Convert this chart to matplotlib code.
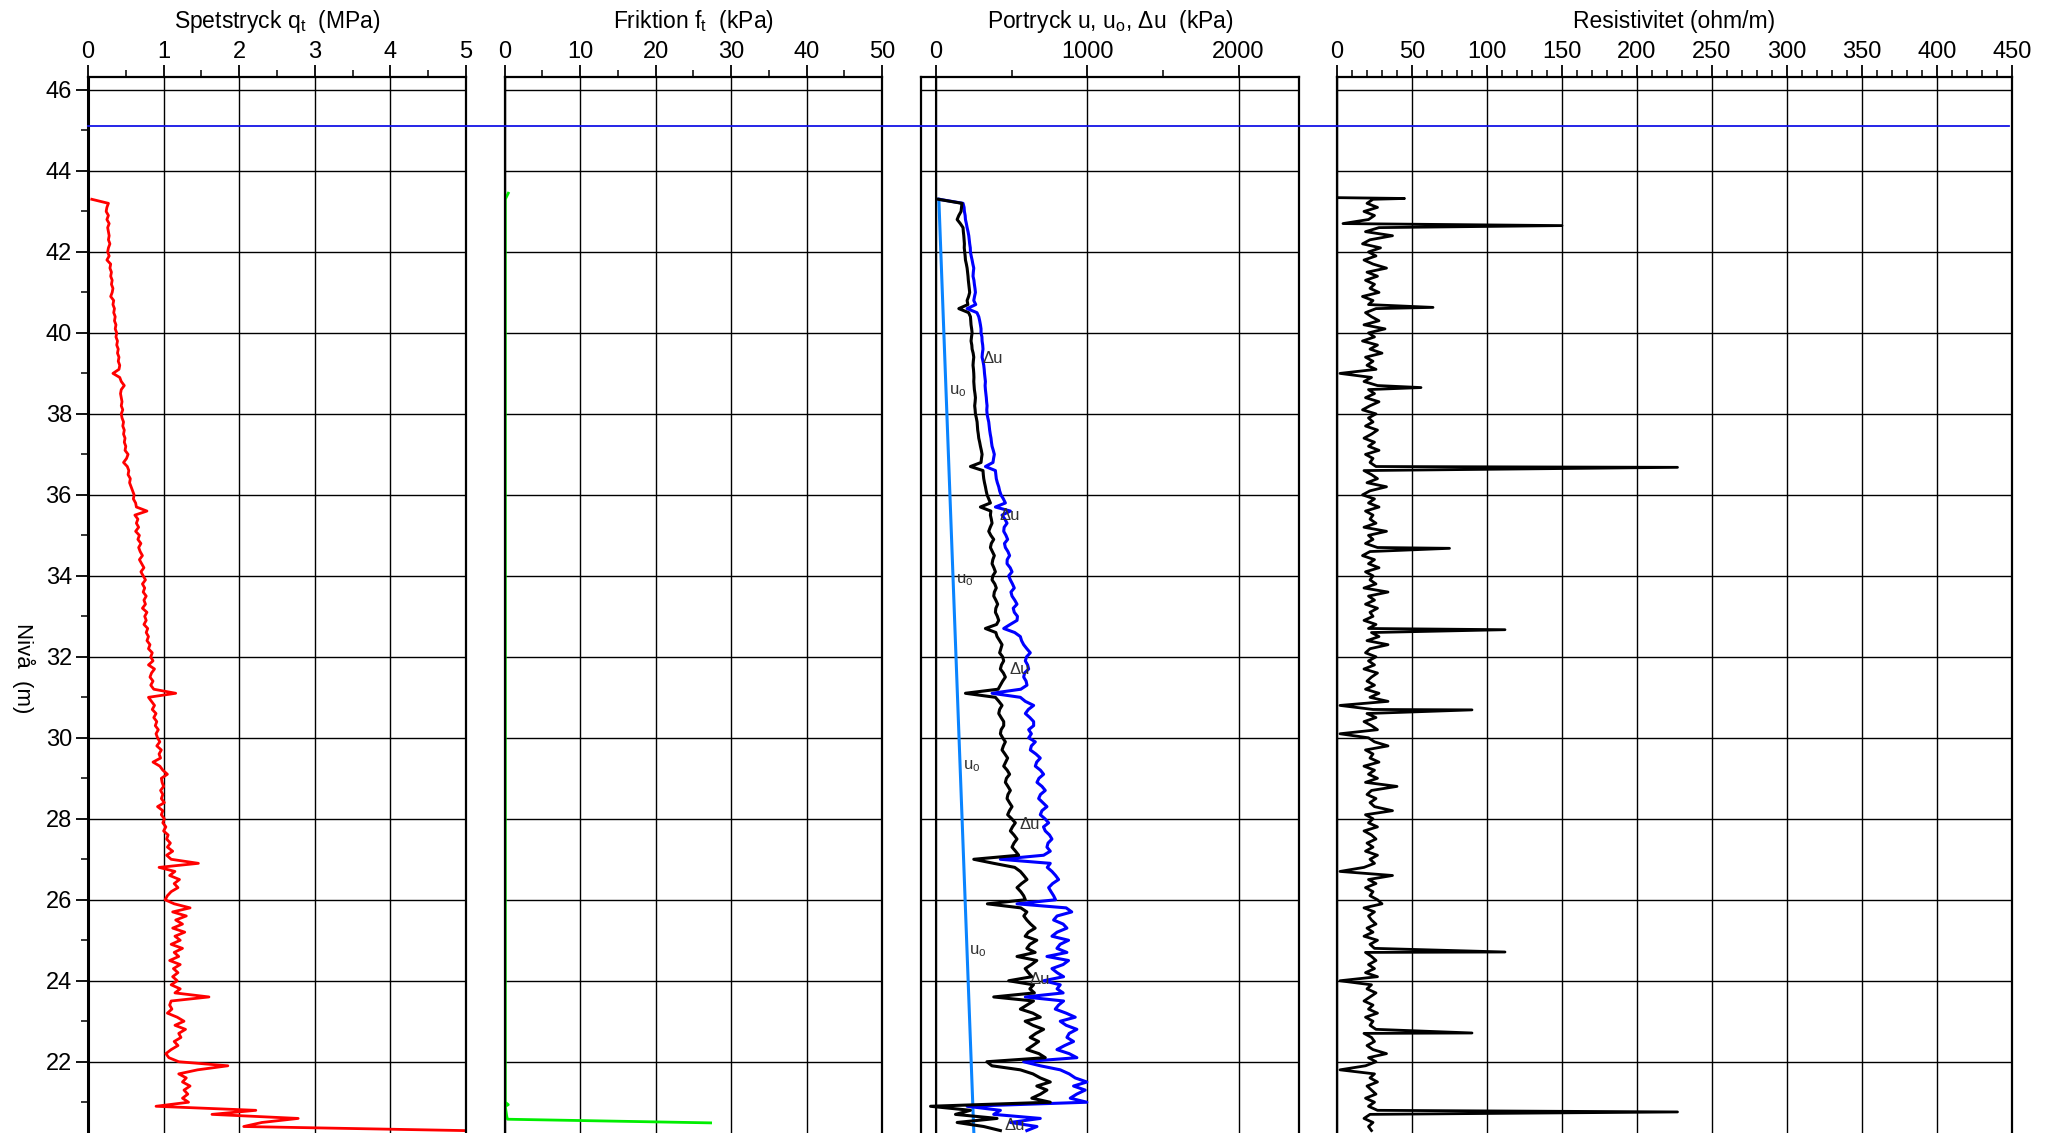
import numpy as np
import matplotlib
matplotlib.use("Agg")
import matplotlib.pyplot as plt
import matplotlib.transforms as mtransforms
from matplotlib.lines import Line2D
from matplotlib.ticker import MultipleLocator

plt.rcParams['font.family'] = ['Liberation Sans', 'DejaVu Sans']
plt.rcParams['mathtext.fontset'] = 'custom'
plt.rcParams['mathtext.rm'] = 'Liberation Sans'
plt.rcParams['mathtext.it'] = 'Liberation Sans:italic'

# Nivå (m), sounding read every 0.1 m from 43.3 down to 20.3
level = np.round(np.arange(43.3, 20.25, -0.1), 1)

# Spetstryck qt (MPa)
qt = [0.05, 0.27, 0.25, 0.24, 0.27, 0.25, 0.28, 0.26, 0.27, 0.28,
      0.27, 0.29, 0.27, 0.26, 0.28, 0.25, 0.30, 0.29, 0.31, 0.30,
      0.32, 0.31, 0.33, 0.32, 0.30, 0.34, 0.33, 0.35, 0.34, 0.36,
      0.35, 0.37, 0.36, 0.38, 0.37, 0.39, 0.38, 0.40, 0.39, 0.41,
      0.40, 0.42, 0.41, 0.33, 0.42, 0.44, 0.48, 0.44, 0.43, 0.44,
      0.45, 0.44, 0.46, 0.44, 0.45, 0.47, 0.46, 0.48, 0.47, 0.49,
      0.48, 0.50, 0.49, 0.53, 0.51, 0.47, 0.52, 0.54, 0.53, 0.56,
      0.55, 0.57, 0.59, 0.61, 0.60, 0.63, 0.64, 0.78, 0.62, 0.66,
      0.64, 0.67, 0.63, 0.68, 0.66, 0.70, 0.67, 0.69, 0.72, 0.68,
      0.71, 0.74, 0.70, 0.73, 0.76, 0.72, 0.75, 0.73, 0.77, 0.74,
      0.76, 0.72, 0.78, 0.75, 0.77, 0.74, 0.79, 0.77, 0.80, 0.78,
      0.82, 0.80, 0.85, 0.83, 0.86, 0.80, 0.88, 0.84, 0.82, 0.86,
      0.83, 0.87, 1.16, 0.80, 0.84, 0.88, 0.85, 0.90, 0.87, 0.91,
      0.89, 0.93, 0.90, 0.92, 0.95, 0.91, 0.97, 0.94, 0.96, 0.86,
      0.95, 0.99, 1.05, 0.97, 0.98, 1.00, 0.96, 0.99, 0.97, 1.01,
      0.92, 0.99, 0.97, 1.01, 0.99, 1.03, 1.00, 1.06, 1.04, 1.09,
      1.05, 1.12, 1.04, 1.10, 1.46, 0.94, 1.15, 1.08, 1.21, 1.14,
      1.19, 1.10, 1.05, 1.02, 1.14, 1.35, 1.12, 1.30, 1.16, 1.25,
      1.12, 1.28, 1.15, 1.22, 1.10, 1.25, 1.14, 1.20, 1.08, 1.22,
      1.13, 1.19, 1.12, 1.18, 1.10, 1.22, 1.15, 1.60, 1.10, 1.08,
      1.11, 1.05, 1.18, 1.27, 1.15, 1.29, 1.20, 1.23, 1.14, 1.19,
      1.10, 1.03, 1.07, 1.20, 1.85, 1.45, 1.20, 1.30, 1.25, 1.35,
      1.27, 1.32, 1.25, 1.33, 0.90, 2.22, 1.64, 2.78, 2.30, 2.06,
      4.97]

# Portryck u (kPa)
u = [20, 178, 185, 187, 192, 194, 200, 205, 211, 216,
     219, 222, 226, 227, 232, 238, 243, 249, 246, 244,
     250, 253, 257, 260, 254, 249, 262, 205, 270, 282,
     288, 293, 297, 297, 303, 304, 308, 310, 306, 304,
     310, 315, 318, 320, 323, 326, 324, 326, 329, 332,
     334, 337, 335, 337, 342, 348, 351, 354, 358, 363,
     366, 370, 378, 385, 380, 376, 326, 392, 395, 398,
     405, 414, 420, 429, 445, 458, 392, 491, 436, 455,
     469, 450, 447, 462, 473, 452, 458, 475, 486, 470,
     469, 490, 502, 480, 491, 505, 517, 495, 502, 520,
     535, 510, 517, 538, 535, 490, 447, 520, 557, 565,
     579, 600, 623, 598, 590, 605, 612, 585, 579, 595,
     601, 560, 370, 557, 590, 645, 610, 590, 620, 645,
     645, 612, 630, 612, 656, 630, 623, 660, 689, 665,
     656, 690, 711, 680, 667, 700, 722, 690, 678, 705,
     733, 700, 689, 720, 744, 710, 722, 750, 766, 740,
     733, 755, 711, 425, 755, 735, 766, 790, 810, 770,
     744, 760, 777, 790, 535, 860, 897, 800, 777, 840,
     865, 800, 766, 876, 820, 799, 865, 733, 876, 840,
     766, 800, 843, 711, 821, 800, 840, 590, 843, 810,
     788, 860, 920, 821, 860, 931, 880, 865, 909, 850,
     799, 880, 931, 579, 689, 821, 880, 920, 997, 909,
     986, 930, 887, 997, 205, 425, 381, 689, 491, 667,
     600]

# Portryck delta u (kPa)
du = [15, 171, 168, 165, 150, 139, 160, 178, 180, 183,
      185, 187, 186, 189, 192, 194, 200, 205, 208, 211,
      213, 216, 219, 222, 215, 205, 210, 150, 215, 227,
      229, 231, 235, 238, 234, 231, 236, 238, 245, 249,
      246, 244, 247, 249, 250, 249, 251, 253, 257, 260,
      258, 255, 258, 260, 266, 271, 273, 275, 279, 282,
      288, 293, 299, 304, 300, 297, 227, 310, 312, 315,
      320, 326, 331, 337, 348, 359, 293, 362, 359, 365,
      370, 358, 348, 362, 381, 365, 359, 372, 385, 375,
      370, 382, 392, 375, 370, 388, 398, 385, 381, 395,
      407, 395, 392, 405, 414, 400, 326, 395, 403, 420,
      436, 428, 420, 440, 447, 432, 425, 445, 458, 440,
      425, 410, 194, 392, 415, 436, 420, 414, 430, 447,
      447, 430, 425, 440, 458, 445, 436, 455, 473, 460,
      447, 470, 486, 465, 458, 475, 491, 475, 469, 485,
      502, 485, 473, 500, 524, 505, 491, 515, 535, 515,
      502, 525, 546, 249, 381, 520, 557, 580, 601, 565,
      535, 560, 579, 590, 339, 560, 600, 580, 600, 625,
      655, 610, 589, 666, 620, 600, 655, 535, 666, 630,
      589, 610, 633, 480, 644, 620, 650, 381, 644, 600,
      557, 640, 689, 589, 640, 711, 660, 622, 678, 640,
      600, 680, 722, 336, 369, 557, 640, 689, 755, 666,
      733, 690, 633, 755, -37, 227, 128, 403, 139, 315,
      425]

# Hydrostatic pore pressure u0 (kPa)
u0_level = [43.3, 20.2]
u0 = [18, 250]

# Resistivitet (ohm/m)
res = [24, 20, 27, 18, 25, 21, 4, 28, 19, 37,
       22, 17, 29, 21, 26, 18, 24, 33, 20, 27,
       19, 25, 22, 28, 17, 24, 21, 26, 19, 23,
       28, 18, 32, 21, 25, 17, 27, 22, 30, 19,
       24, 20, 26, 2, 23, 18, 27, 21, 25, 19,
       28, 22, 17, 26, 21, 24, 19, 27, 23, 18,
       25, 21, 28, 19, 24, 22, 26, 18, 23, 27,
       20, 33, 22, 17, 25, 21, 28, 19, 24, 22,
       26, 18, 33, 21, 24, 19, 27, 22, 17, 25,
       21, 28, 19, 24, 22, 26, 18, 34, 21, 25,
       19, 27, 22, 24, 18, 26, 21, 23, 28, 20,
       34, 22, 19, 26, 21, 25, 18, 27, 23, 20,
       25, 19, 28, 22, 34, 2, 24, 20, 26, 18,
       23, 27, 2, 21, 25, 34, 19, 24, 22, 28,
       18, 25, 21, 27, 19, 40, 23, 20, 26, 22,
       25, 37, 19, 24, 21, 27, 18, 23, 26, 20,
       24, 19, 27, 22, 25, 18, 2, 37, 21, 26,
       19, 24, 22, 27, 30, 18, 25, 21, 23, 26,
       20, 24, 18, 27, 22, 25, 19, 23, 26, 21,
       25, 19, 27, 2, 23, 20, 26, 22, 18, 24,
       21, 27, 19, 24, 22, 26, 18, 23, 25, 20,
       24, 33, 21, 26, 19, 2, 25, 22, 27, 20,
       23, 26, 19, 25, 21, 27, 22, 18, 24, 21,
       23]
res_spike_level = [43.34, 43.32, 42.65, 40.63, 38.65, 36.68, 34.68, 32.67,
                   30.69, 24.71, 22.71, 20.76]
res_spike = [1, 45, 150, 64, 56, 227, 75, 112, 90, 112, 90, 227]

# Friktion ft (kPa)
fs_level = [43.45, 43.3, 40.0, 35.0, 30.0, 25.0, 21.0, 20.94, 20.9, 20.65, 20.58, 20.49]
fs = [0.5, 0.1, 0.1, 0.1, 0.1, 0.1, 0.1, 0.5, 0.1, 0.3, 0.4, 27.3]

gw_level = 45.12

# label positions in the pore pressure panel
uo_lab_level = [38.55, 33.9, 29.3, 24.73]
uo_lab_x = [85, 130, 175, 220]
du_lab_level = [39.38, 35.5, 31.68, 27.85, 24.02, 20.42]
du_lab_x = [305, 420, 485, 550, 615, 455]

assert len(qt) == len(level) == len(u) == len(du) == len(res)

W, H = 2063, 1133
fig = plt.figure(figsize=(W / 100, H / 100), dpi=100)
top = 1 - 77 / H
ylim = (20.24, 46.32)
narrow = ['Liberation Sans Narrow', 'Liberation Sans', 'DejaVu Sans']


def make_panel(x0, x1, xlim, major, minor, title, family=None):
    ax = fig.add_axes([x0 / W, 0, (x1 - x0) / W, top])
    ax.set_xlim(xlim)
    ax.set_ylim(ylim)
    ax.xaxis.set_major_locator(MultipleLocator(major))
    ax.xaxis.set_minor_locator(MultipleLocator(minor))
    ax.yaxis.set_major_locator(MultipleLocator(2))
    ax.yaxis.set_minor_locator(MultipleLocator(1))
    ax.xaxis.tick_top()
    ax.tick_params(axis='x', which='major', length=8.6, width=1.3, labelsize=17,
                   pad=1.5, top=True, bottom=False)
    ax.tick_params(axis='x', which='minor', length=5, width=1.1, top=True, bottom=False)
    ax.tick_params(axis='y', which='both', left=False, right=False, labelleft=False)
    if family:
        ax.tick_params(axis='x', labelfontfamily=family)
    ax.grid(True, which='major', color='black', lw=1.0)
    ax.spines['bottom'].set_visible(False)
    for s in ['top', 'left', 'right']:
        ax.spines[s].set_linewidth(1.6)
    ax.text(0.5, 1.046, title, transform=ax.transAxes, ha='center', va='baseline',
            fontsize=16.5, family=family if family else None)
    return ax


ax1 = make_panel(88, 466, (0, 5), 1, 0.5, r"Spetstryck q$_\mathrm{t}$  (MPa)")
ax2 = make_panel(504.5, 882, (0, 50), 10, 5, r"Friktion f$_\mathrm{t}$  (kPa)")
ax3 = make_panel(921, 1299, (-100, 2400), 1000, 500, r"Portryck u, u$_\mathrm{o}$, Δu  (kPa)")
ax4 = make_panel(1337, 2012, (0, 450), 50, 10, "Resistivitet (ohm/m)", family=narrow)

# y axis on first panel
ax1.tick_params(axis='y', which='major', left=True, labelleft=True, length=8.6,
                width=1.3, labelsize=17, pad=3)
ax1.tick_params(axis='y', which='minor', left=True, length=5, width=1.1)
ax1.spines['left'].set_linewidth(2.2)
fig.text(23.5 / W, 1 - 668 / H, "Nivå  (m)", rotation=270, ha='center', va='center',
         fontsize=16)

# curves
ax1.plot(qt, level, color='#ff0000', lw=2.0)
ax2.plot(fs, fs_level, color='#00ee00', lw=2.0)
ax3.plot(u0, u0_level, color='#0a84ff', lw=2.2)
ax3.plot(u, level, color='#0000ff', lw=2.2)
ax3.plot(du, level, color='black', lw=2.2)
ax3.axvline(0, color='black', lw=1.5)
for lv, x in zip(uo_lab_level, uo_lab_x):
    ax3.text(x, lv, r"u$_\mathrm{o}$", fontsize=12, color='#333333', ha='left', va='center')
for lv, x in zip(du_lab_level, du_lab_x):
    ax3.text(x, lv, "Δu", fontsize=12, color='#333333', ha='left', va='center')

res_lv = np.concatenate([level, res_spike_level])
res_all = np.concatenate([res, res_spike])
order = np.argsort(-res_lv, kind='stable')
ax4.plot(res_all[order], res_lv[order], color='black', lw=2.0)

# groundwater level across all panels
trans = mtransforms.blended_transform_factory(fig.transFigure, ax1.transData)
fig.add_artist(Line2D([88 / W, 2009 / W], [gw_level, gw_level], transform=trans,
                      color='#1414e6', lw=1.3))

fig.savefig("out.png", dpi=100)
